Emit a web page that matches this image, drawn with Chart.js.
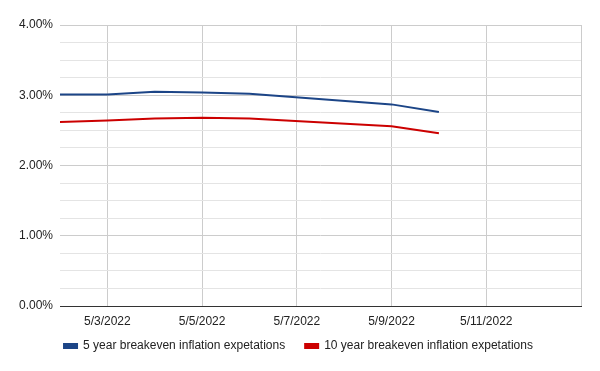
<!DOCTYPE html>
<html>
<head>
<meta charset="utf-8">
<script src="https://cdn.jsdelivr.net/npm/chart.js@4"></script>
<style>
  html, body { margin: 0; padding: 0; background: #fff; }
  #wrap { width: 600px; height: 371px; }
</style>
</head>
<body>
<div id="wrap"><canvas id="myChart" width="600" height="371"></canvas></div>
<script>
// trading days (weekends skipped, axis is continuous in days)
const dates = ['5/2/2022', '5/3/2022', '5/4/2022', '5/5/2022', '5/6/2022', '5/9/2022', '5/10/2022'];
const fiveYear = [3.01, 3.01, 3.05, 3.04, 3.02, 2.87, 2.76];
const tenYear = [2.62, 2.64, 2.67, 2.68, 2.67, 2.56, 2.46];
const xTickLabels = ['5/3/2022', '5/5/2022', '5/7/2022', '5/9/2022', '5/11/2022', ''];
const yTicks = [0, 1, 2, 3, 4];

const startDay = new Date('5/2/2022');
function dayNum(s) {
    return Math.round((new Date(s) - startDay) / 86400000);
}
const xTickValues = xTickLabels.map((l, i) => 1 + i * 2);

Chart.defaults.font.family = '"Liberation Sans", Arial, sans-serif';
Chart.defaults.font.size = 12;
Chart.defaults.color = '#222';

// pull the legend up a bit so it sits closer to the axis labels
const legendShift = {
    id: 'legendShift',
    afterLayout(chart) {
        chart.legend.top -= 9;
        chart.legend.bottom -= 9;
    }
};

const ctx = document.getElementById('myChart').getContext('2d');
const myChart = new Chart(ctx, {
    type: 'line',
    data: {
        datasets: [{
            label: '5 year breakeven inflation expetations',
            data: dates.map((d, i) => ({x: dayNum(d), y: fiveYear[i]})),
            borderColor: '#1c4587',
            backgroundColor: '#1c4587',
            borderWidth: 2,
            pointRadius: 0,
            tension: 0
        }, {
            label: '10 year breakeven inflation expetations',
            data: dates.map((d, i) => ({x: dayNum(d), y: tenYear[i]})),
            borderColor: '#cc0000',
            backgroundColor: '#cc0000',
            borderWidth: 2,
            pointRadius: 0,
            tension: 0
        }]
    },
    plugins: [legendShift],
    options: {
        responsive: false,
        animation: false,
        layout: { padding: { left: 16, right: 19, top: 25, bottom: 0 } },
        plugins: {
            legend: {
                position: 'bottom',
                labels: {
                    boxWidth: 13,
                    boxHeight: 4,
                    padding: 20,
                    color: '#222'
                }
            },
            tooltip: { enabled: false }
        },
        scales: {
            x: {
                type: 'linear',
                min: 0,
                max: 11,
                afterBuildTicks: (axis) => {
                    axis.ticks = xTickValues.map(v => ({value: v}));
                },
                afterFit: (axis) => { axis.height = 23; },
                ticks: {
                    autoSkip: false,
                    maxRotation: 0,
                    padding: 8,
                    color: '#222',
                    callback: (v, i) => xTickLabels[i]
                },
                grid: {
                    color: '#cccccc',
                    drawTicks: false
                },
                border: { display: true, color: '#333333', width: 1 }
            },
            y: {
                min: 0,
                max: 4,
                afterBuildTicks: (axis) => {
                    const t = [];
                    for (let v = 0; v <= 16; v++) t.push({value: v / 4});
                    axis.ticks = t;
                },
                afterFit: (axis) => { axis.width = 44; },
                ticks: {
                    autoSkip: false,
                    padding: 7,
                    color: '#222',
                    callback: (v) => yTicks.includes(v) ? v.toFixed(2) + '%' : ''
                },
                grid: {
                    color: (c) => (c.tick && Number.isInteger(c.tick.value)) ? '#cccccc' : '#e4e4e4',
                    drawTicks: false
                },
                border: { display: false }
            }
        }
    }
});
</script>
</body>
</html>
